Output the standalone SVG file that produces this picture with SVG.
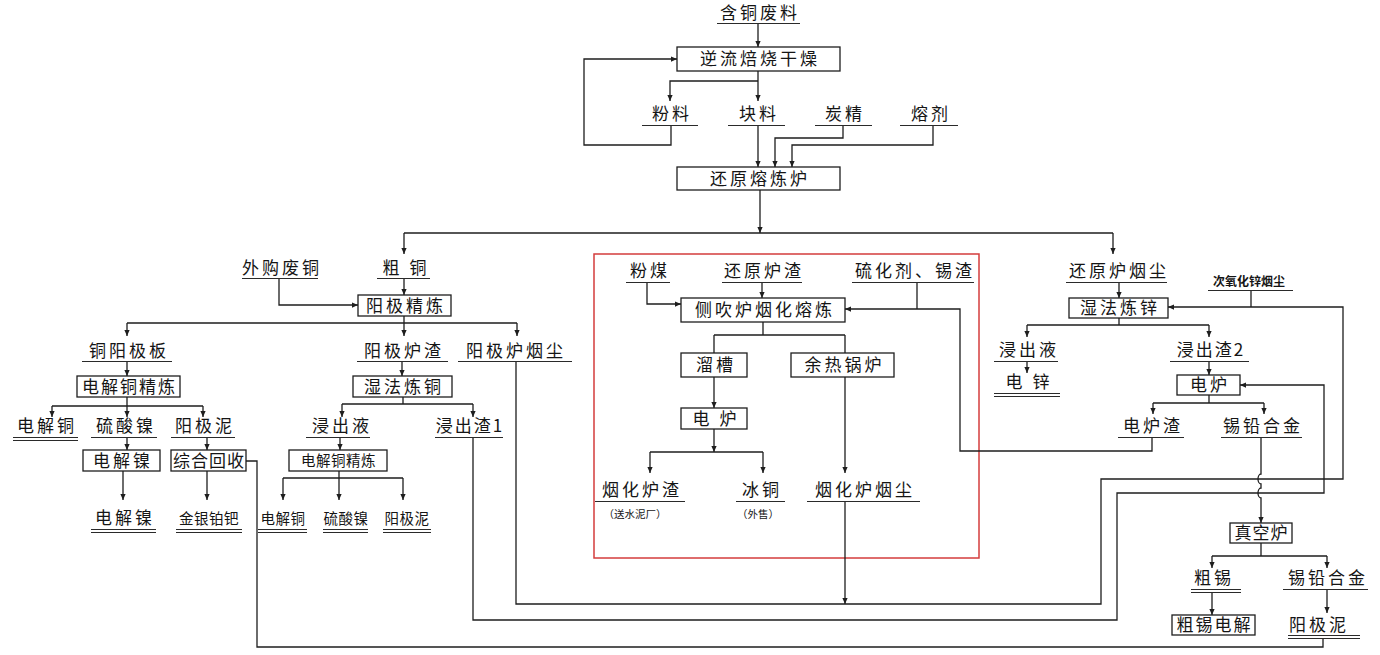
<svg xmlns="http://www.w3.org/2000/svg" width="1380" height="655" viewBox="0 0 1380 655">
<style>
.bg{fill:#ffffff}
.box{fill:#ffffff;stroke:#1e1e1e;stroke-width:1.3}
.ln{fill:none;stroke:#1e1e1e;stroke-width:1.3}
.ul{stroke:#2a2a2a;stroke-width:1.2}
.t{font-family:"Noto Sans CJK SC","Noto Sans",sans-serif;font-size:17px;fill:#151515;text-anchor:middle;letter-spacing:3px}
.n1{letter-spacing:1px}
.n2{letter-spacing:2px}
.s{font-size:14.5px;letter-spacing:0.5px}
.x{font-size:12px;letter-spacing:0px;font-weight:bold}
.xs{font-size:10.5px;letter-spacing:0px}
.red{fill:none;stroke:#d43d3d;stroke-width:1.5}
</style>
<defs>
<marker id="ah" viewBox="0 0 8 8" refX="8" refY="4" markerWidth="6" markerHeight="6" markerUnits="userSpaceOnUse" orient="auto"><path d="M0,0.5 L8,4 L0,7.5 z" fill="#1e1e1e"/></marker>
</defs>
<rect class="bg" x="0" y="0" width="1380" height="655"/>

<g id="red-frame"><rect class="red" x="594" y="254" width="385" height="304"/></g>

<g id="connectors">
<path class="ln" d="M758,24 V47" marker-end="url(#ah)"/>
<path class="ln" d="M758,71 V101" marker-end="url(#ah)"/>
<path class="ln" d="M758,81 H670 V101" marker-end="url(#ah)"/>
<path class="ln" d="M671,126 V145 H584 V59 H677" marker-end="url(#ah)"/>
<path class="ln" d="M758,126 V167" marker-end="url(#ah)"/>
<path class="ln" d="M843,126 V138 H775 V167" marker-end="url(#ah)"/>
<path class="ln" d="M933,126 V145 H792 V167" marker-end="url(#ah)"/>
<path class="ln" d="M760,190 V233" marker-end="url(#ah)"/>
<path class="ln" d="M404,233 H1113"/>
<path class="ln" d="M404,233 V254" marker-end="url(#ah)"/>
<path class="ln" d="M1113,233 V254" marker-end="url(#ah)"/>
<path class="ln" d="M404,279 V295" marker-end="url(#ah)"/>
<path class="ln" d="M279,279 V305 H358" marker-end="url(#ah)"/>
<path class="ln" d="M404,316 V323 M127,323 H517"/>
<path class="ln" d="M127,323 V336" marker-end="url(#ah)"/>
<path class="ln" d="M404,323 V336" marker-end="url(#ah)"/>
<path class="ln" d="M517,323 V336" marker-end="url(#ah)"/>
<path class="ln" d="M127,361 V376" marker-end="url(#ah)"/>
<path class="ln" d="M402,361 V376" marker-end="url(#ah)"/>
<path class="ln" d="M127,397 V406 M52,406 H203"/>
<path class="ln" d="M52,406 V417" marker-end="url(#ah)"/>
<path class="ln" d="M127,406 V417" marker-end="url(#ah)"/>
<path class="ln" d="M203,406 V417" marker-end="url(#ah)"/>
<path class="ln" d="M403,397 V404 M342,404 H473"/>
<path class="ln" d="M342,404 V417" marker-end="url(#ah)"/>
<path class="ln" d="M473,404 V417" marker-end="url(#ah)"/>
<path class="ln" d="M127,438 V450" marker-end="url(#ah)"/>
<path class="ln" d="M207,438 V450" marker-end="url(#ah)"/>
<path class="ln" d="M340,438 V450" marker-end="url(#ah)"/>
<path class="ln" d="M123,471 V500" marker-end="url(#ah)"/>
<path class="ln" d="M207,471 V500" marker-end="url(#ah)"/>
<path class="ln" d="M339,471 V478 M283,478 H403"/>
<path class="ln" d="M283,478 V500" marker-end="url(#ah)"/>
<path class="ln" d="M339,478 V500" marker-end="url(#ah)"/>
<path class="ln" d="M403,478 V500" marker-end="url(#ah)"/>
<path class="ln" d="M1323,638 V647 H257 V461 H246"/>
<path class="ln" d="M473,437 V620 H1117 V493 H1324 V385 H1240" marker-end="url(#ah)"/>
<path class="ln" d="M516,361 V604 H1101 V479 H1343 V307 H1168" marker-end="url(#ah)"/>
<path class="ln" d="M845,501 V604" marker-end="url(#ah)"/>
<path class="ln" d="M1251,290 V307"/>
<path class="ln" d="M1152,437 V451 H960 V309 H845" marker-end="url(#ah)"/>
<path class="ln" d="M917,282 V309"/>
<path class="ln" d="M647,282 V304 H681" marker-end="url(#ah)"/>
<path class="ln" d="M762,282 V298" marker-end="url(#ah)"/>
<path class="ln" d="M763,322 V335 M714,335 H845 M714,335 V353 M845,335 V353"/>
<path class="ln" d="M714,377 V408" marker-end="url(#ah)"/>
<path class="ln" d="M714,429 V452" marker-end="url(#ah)"/>
<path class="ln" d="M650,452 H763"/>
<path class="ln" d="M650,452 V473" marker-end="url(#ah)"/>
<path class="ln" d="M763,452 V473" marker-end="url(#ah)"/>
<path class="ln" d="M845,377 V473" marker-end="url(#ah)"/>
<path class="ln" d="M1119,282 V298" marker-end="url(#ah)"/>
<path class="ln" d="M1119,318 V325 M1027,325 H1209"/>
<path class="ln" d="M1027,325 V337" marker-end="url(#ah)"/>
<path class="ln" d="M1209,325 V337" marker-end="url(#ah)"/>
<path class="ln" d="M1027,361 V373" marker-end="url(#ah)"/>
<path class="ln" d="M1209,361 V375" marker-end="url(#ah)"/>
<path class="ln" d="M1209,395 V403 M1153,403 H1264"/>
<path class="ln" d="M1153,403 V414" marker-end="url(#ah)"/>
<path class="ln" d="M1264,403 V414" marker-end="url(#ah)"/>
<path class="ln" d="M1261,437 V474 A3,5 0 0 0 1261,484 V488 A3,5 0 0 0 1261,498 V523" marker-end="url(#ah)"/>
<path class="ln" d="M1261,543 V556 M1212,556 H1327"/>
<path class="ln" d="M1212,556 V568" marker-end="url(#ah)"/>
<path class="ln" d="M1327,556 V568" marker-end="url(#ah)"/>
<path class="ln" d="M1212,592 V615" marker-end="url(#ah)"/>
<path class="ln" d="M1327,589 V613" marker-end="url(#ah)"/>
</g>

<!-- top -->
<g id="n-hantongfeiliao"><text class="t" x="760" y="19">含铜废料</text><line class="ul" x1="717" y1="23.5" x2="800" y2="23.5"/></g>
<g id="n-niliu"><rect class="box" x="677" y="47" width="163" height="24"/><text class="t" x="760" y="65">逆流焙烧干燥</text></g>
<g id="n-fenliao"><text class="t" x="672" y="120">粉料</text><line class="ul" x1="642" y1="125.5" x2="698" y2="125.5"/></g>
<g id="n-kuailiao"><text class="t" x="759" y="120">块料</text><line class="ul" x1="728" y1="125.5" x2="785" y2="125.5"/></g>
<g id="n-tanjing"><text class="t" x="845" y="120">炭精</text><line class="ul" x1="815" y1="125.5" x2="872" y2="125.5"/></g>
<g id="n-rongji"><text class="t" x="931" y="120">熔剂</text><line class="ul" x1="900" y1="125.5" x2="958" y2="125.5"/></g>
<g id="n-huanyuan"><rect class="box" x="677" y="167" width="163" height="23"/><text class="t" x="760" y="184.5">还原熔炼炉</text></g>

<!-- left -->
<g id="n-waigoufeitong"><text class="t" x="282" y="274">外购废铜</text><line class="ul" x1="242" y1="278.5" x2="318" y2="278.5"/></g>
<g id="n-cutong"><text class="t" x="406" y="274">粗 铜</text><line class="ul" x1="377" y1="278.5" x2="430" y2="278.5"/></g>
<g id="n-yangjijinglian"><rect class="box" x="358" y="295" width="93" height="21"/><text class="t" x="406" y="311.5">阳极精炼</text></g>
<g id="n-tongyangjiban"><text class="t" x="129" y="357">铜阳极板</text><line class="ul" x1="82" y1="361.5" x2="172" y2="361.5"/></g>
<g id="n-yangjiluzha"><text class="t" x="404" y="357">阳极炉渣</text><line class="ul" x1="357" y1="361.5" x2="448" y2="361.5"/></g>
<g id="n-yangjiluyanchen"><text class="t" x="516" y="357">阳极炉烟尘</text><line class="ul" x1="458" y1="361.5" x2="572" y2="361.5"/></g>
<g id="n-dianjietongjinglian"><rect class="box" x="77" y="376" width="103" height="21"/><text class="t n2" x="129.5" y="392.5">电解铜精炼</text></g>
<g id="n-shifaliantong"><rect class="box" x="353" y="376" width="99" height="21"/><text class="t" x="404" y="392.5">湿法炼铜</text></g>
<g id="n-dianjietong1"><text class="t" x="47" y="432">电解铜</text><line class="ul" x1="13" y1="437.5" x2="78" y2="437.5"/><line class="ul" x1="13" y1="440.5" x2="78" y2="440.5"/></g>
<g id="n-liusuannie1"><text class="t" x="126" y="432">硫酸镍</text><line class="ul" x1="91" y1="437.5" x2="157" y2="437.5"/></g>
<g id="n-yangjini1"><text class="t" x="205" y="432">阳极泥</text><line class="ul" x1="171" y1="437.5" x2="235" y2="437.5"/></g>
<g id="n-jinchuye1"><text class="t" x="342" y="432">浸出液</text><line class="ul" x1="306" y1="437.5" x2="370" y2="437.5"/></g>
<g id="n-jinchuzha1"><text class="t n2" x="470" y="432">浸出渣1</text><line class="ul" x1="435" y1="437.5" x2="503" y2="437.5"/></g>
<g id="n-dianjienie"><rect class="box" x="83" y="450" width="77" height="21"/><text class="t" x="123" y="466.5">电解镍</text></g>
<g id="n-zonghehuishou"><rect class="box" x="171" y="450" width="75" height="21"/><text class="t n1" x="209" y="466.5">综合回收</text></g>
<g id="n-dianjietongjinglian2"><rect class="box" x="289" y="450" width="98" height="21"/><text class="t s" x="338.5" y="466">电解铜精炼</text></g>
<g id="n-dianjienie2"><text class="t" x="125" y="524">电解镍</text><line class="ul" x1="91" y1="529.5" x2="156" y2="529.5"/><line class="ul" x1="91" y1="532.5" x2="156" y2="532.5"/></g>
<g id="n-jinyinbaba"><text class="t s" x="209" y="524">金银铂钯</text><line class="ul" x1="176" y1="529.5" x2="242" y2="529.5"/><line class="ul" x1="176" y1="532.5" x2="242" y2="532.5"/></g>
<g id="n-dianjietong2"><text class="t s" x="283" y="524">电解铜</text><line class="ul" x1="258" y1="529.5" x2="307" y2="529.5"/><line class="ul" x1="258" y1="532.5" x2="307" y2="532.5"/></g>
<g id="n-liusuannie2"><text class="t s" x="346" y="524">硫酸镍</text><line class="ul" x1="323" y1="529.5" x2="368" y2="529.5"/><line class="ul" x1="323" y1="532.5" x2="368" y2="532.5"/></g>
<g id="n-yangjini2"><text class="t s" x="407" y="524">阳极泥</text><line class="ul" x1="383" y1="529.5" x2="431" y2="529.5"/><line class="ul" x1="383" y1="532.5" x2="431" y2="532.5"/></g>

<!-- centre (red frame) -->
<g id="n-fenmei"><text class="t" x="650" y="277">粉煤</text><line class="ul" x1="626" y1="282.5" x2="670" y2="282.5"/></g>
<g id="n-huanyuanluzha"><text class="t" x="764" y="277">还原炉渣</text><line class="ul" x1="722" y1="282.5" x2="802" y2="282.5"/></g>
<g id="n-liuhuaji"><text class="t" x="915" y="277">硫化剂、锡渣</text><line class="ul" x1="852" y1="282.5" x2="974" y2="282.5"/></g>
<g id="n-cechui"><rect class="box" x="681" y="298" width="164" height="24"/><text class="t" x="765" y="316">侧吹炉烟化熔炼</text></g>
<g id="n-liucao"><rect class="box" x="681" y="353" width="66" height="24"/><text class="t" x="716" y="371">溜槽</text></g>
<g id="n-yure"><rect class="box" x="791" y="353" width="103" height="24"/><text class="t" x="844.5" y="371">余热锅炉</text></g>
<g id="n-dianlu1"><rect class="box" x="681" y="408" width="66" height="21"/><text class="t" x="716" y="424.5">电 炉</text></g>
<g id="n-yanhualuzha"><text class="t" x="642" y="496">烟化炉渣</text><line class="ul" x1="595" y1="501.5" x2="685" y2="501.5"/><text class="t xs" x="635" y="518">（送水泥厂）</text></g>
<g id="n-bingtong"><text class="t" x="762" y="496">冰铜</text><line class="ul" x1="736" y1="501.5" x2="785" y2="501.5"/><text class="t xs" x="758" y="518">（外售）</text></g>
<g id="n-yanhualuyanchen"><text class="t" x="865" y="496">烟化炉烟尘</text><line class="ul" x1="807" y1="501.5" x2="920" y2="501.5"/></g>

<!-- right -->
<g id="n-huanyuanluyanchen"><text class="t" x="1119" y="277">还原炉烟尘</text><line class="ul" x1="1066" y1="282.5" x2="1167" y2="282.5"/></g>
<g id="n-ciyanghuaxin"><text class="t x" x="1249" y="286">次氧化锌烟尘</text><line class="ul" x1="1208" y1="290.5" x2="1293" y2="290.5"/></g>
<g id="n-shifalianxin"><rect class="box" x="1069" y="298" width="99" height="20"/><text class="t" x="1120" y="314">湿法炼锌</text></g>
<g id="n-jinchuye2"><text class="t" x="1029" y="356">浸出液</text><line class="ul" x1="994" y1="361.5" x2="1058" y2="361.5"/></g>
<g id="n-dianxin"><text class="t" x="1029" y="388">电 锌</text><line class="ul" x1="994" y1="393.5" x2="1060" y2="393.5"/><line class="ul" x1="994" y1="396.5" x2="1060" y2="396.5"/></g>
<g id="n-jinchuzha2"><text class="t n2" x="1211" y="356">浸出渣2</text><line class="ul" x1="1170" y1="361.5" x2="1249" y2="361.5"/></g>
<g id="n-dianlu2"><rect class="box" x="1177" y="375" width="63" height="20"/><text class="t" x="1210" y="391">电炉</text></g>
<g id="n-dianluzha"><text class="t" x="1153" y="432">电炉渣</text><line class="ul" x1="1118" y1="437.5" x2="1184" y2="437.5"/></g>
<g id="n-xiqianhejin1"><text class="t" x="1263" y="432">锡铅合金</text><line class="ul" x1="1221" y1="437.5" x2="1302" y2="437.5"/></g>
<g id="n-zhenkonglu"><rect class="box" x="1230" y="523" width="62" height="20"/><text class="t n1" x="1261.5" y="539">真空炉</text></g>
<g id="n-cuxi"><text class="t" x="1214" y="584">粗锡</text><line class="ul" x1="1191" y1="589.5" x2="1241" y2="589.5"/><line class="ul" x1="1191" y1="592.5" x2="1241" y2="592.5"/></g>
<g id="n-xiqianhejin2"><text class="t" x="1328" y="584">锡铅合金</text><line class="ul" x1="1283" y1="589.5" x2="1368" y2="589.5"/></g>
<g id="n-cuxidianjie"><rect class="box" x="1172" y="615" width="83" height="20"/><text class="t n2" x="1214.5" y="631">粗锡电解</text></g>
<g id="n-yangjini3"><text class="t" x="1319" y="631">阳极泥</text><line class="ul" x1="1288" y1="635.5" x2="1360" y2="635.5"/><line class="ul" x1="1288" y1="638.5" x2="1360" y2="638.5"/></g>
</svg>
